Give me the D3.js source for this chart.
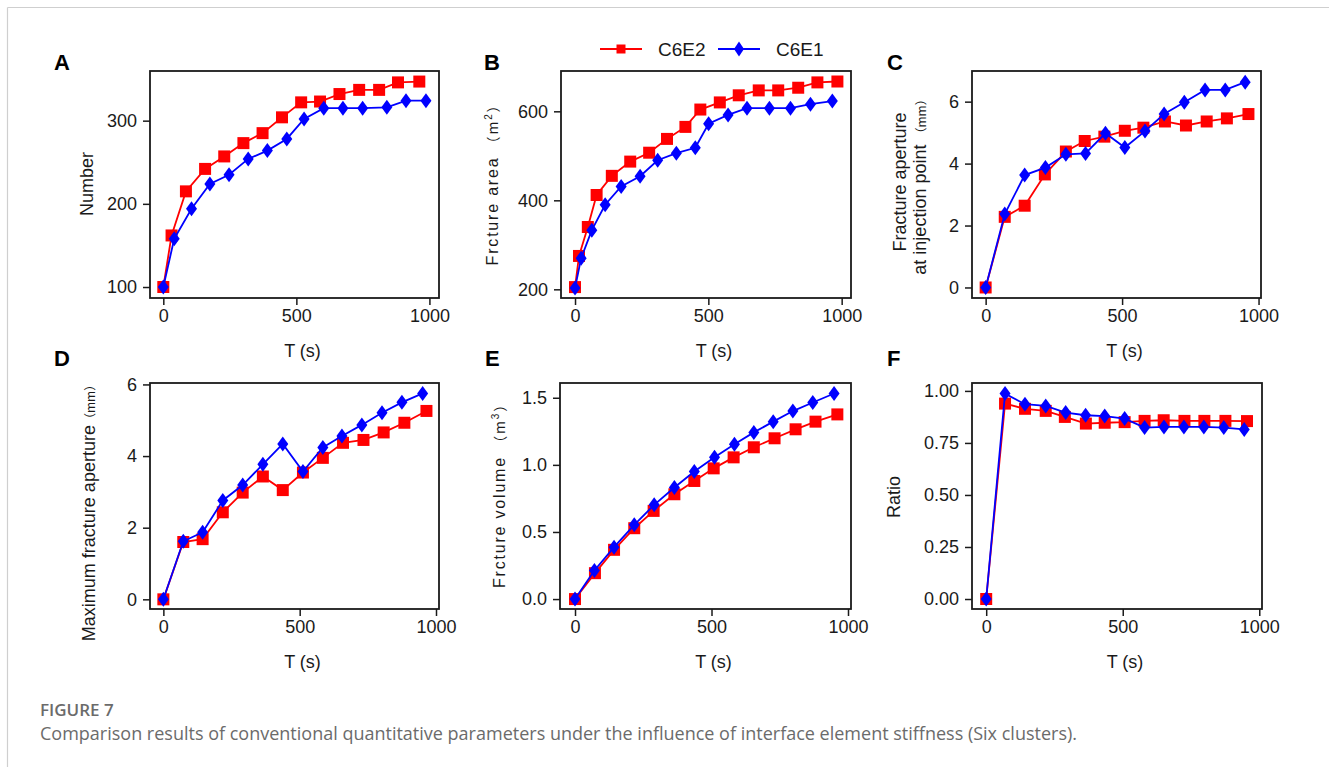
<!DOCTYPE html>
<html>
<head>
<meta charset="utf-8">
<script src="https://cdn.jsdelivr.net/npm/d3@7"></script>
<style>
    body { margin: 0; background: #fff; }
    svg { font-family: "Liberation Sans", Arial, sans-serif; }
    .caption { font-family: "Open Sans", "Noto Sans", sans-serif; fill: #6b6b6b; }
</style>
</head>
<body>
<svg id="fig" width="1329" height="767"></svg>
<script>
// ---- data (C6E2 = red squares, C6E1 = blue diamonds) ----
const seriesNames = ["C6E2", "C6E1"];

// A - Number
const timeA_E2 = [0, 31, 85, 157, 229, 301, 373, 446, 518, 589, 662, 736, 811, 882, 962];
const numberE2 = [100, 162, 215, 242, 257, 273, 285, 304, 322, 323, 332, 337, 337, 346, 347];
const timeA_E1 = [0, 41, 106, 175, 247, 319, 391, 464, 529, 603, 675, 749, 840, 912, 987];
const numberE1 = [100, 158, 194, 224, 235, 254, 264, 278, 302, 315, 315, 315, 316, 324, 324];

// B - Fracture area
const timeB_E2 = [0, 15, 48, 81, 138, 207, 278, 345, 414, 470, 543, 614, 689, 762, 837, 909, 984];
const areaE2 = [205, 275, 340, 412, 455, 487, 507, 538, 565, 604, 620, 636, 647, 647, 653, 665, 667];
const timeB_E1 = [0, 23, 63, 113, 173, 244, 310, 380, 451, 501, 574, 645, 729, 808, 883, 965];
const areaE1 = [203, 270, 333, 390, 431, 454, 490, 506, 518, 572, 592, 607, 607, 607, 616, 623];

// C - Fracture aperture at injection point
const timeC_E2 = [0, 70, 143, 217, 294, 363, 435, 510, 578, 657, 734, 810, 884, 963];
const injApertureE2 = [0, 2.28, 2.64, 3.65, 4.39, 4.73, 4.87, 5.06, 5.16, 5.36, 5.23, 5.36, 5.46, 5.60];
const timeC_E1 = [0, 70, 143, 219, 294, 366, 439, 510, 584, 654, 728, 804, 878, 951];
const injApertureE1 = [0, 2.37, 3.63, 3.87, 4.30, 4.33, 4.98, 4.52, 5.05, 5.60, 5.98, 6.38, 6.38, 6.63];

// D - Maximum fracture aperture
const timeD_E2 = [0, 73, 144, 218, 291, 365, 438, 512, 585, 659, 734, 808, 884, 965];
const maxApertureE2 = [0, 1.60, 1.68, 2.43, 2.98, 3.43, 3.05, 3.54, 3.95, 4.37, 4.45, 4.66, 4.93, 5.26];
const timeD_E1 = [0, 73, 144, 218, 291, 365, 438, 512, 585, 655, 728, 802, 875, 951];
const maxApertureE1 = [0, 1.62, 1.87, 2.76, 3.19, 3.77, 4.34, 3.57, 4.24, 4.56, 4.87, 5.21, 5.50, 5.75];

// E - Fracture volume
const timeE_E2 = [0, 73, 143, 217, 288, 364, 437, 508, 581, 655, 731, 808, 881, 961];
const volumeE2 = [0, 0.193, 0.367, 0.528, 0.657, 0.781, 0.880, 0.974, 1.056, 1.131, 1.198, 1.265, 1.322, 1.376];
const timeE_E1 = [0, 71, 143, 217, 290, 364, 437, 511, 584, 655, 726, 798, 871, 949];
const volumeE1 = [0, 0.213, 0.387, 0.553, 0.702, 0.831, 0.950, 1.056, 1.153, 1.242, 1.322, 1.401, 1.465, 1.532];

// F - Ratio
const timeF_E2 = [0, 69, 142, 218, 288, 365, 434, 507, 580, 650, 726, 799, 876, 955];
const ratioE2 = [0, 0.939, 0.914, 0.904, 0.875, 0.843, 0.847, 0.850, 0.856, 0.859, 0.856, 0.856, 0.856, 0.855];
const timeF_E1 = [0, 69, 142, 218, 291, 364, 434, 507, 580, 651, 724, 797, 870, 945];
const ratioE1 = [0, 0.987, 0.936, 0.928, 0.896, 0.883, 0.879, 0.867, 0.824, 0.827, 0.827, 0.827, 0.824, 0.815];

const xTicks = [0, 500, 1000];
const yTicksA = [100, 200, 300];
const yTicksB = [200, 400, 600];
const yTicksC = [0, 2, 4, 6];
const yTicksD = [0, 2, 4, 6];
const yTicksE = [0, 0.5, 1.0, 1.5];
const yTicksF = [0, 0.25, 0.5, 0.75, 1.0];

const zip = (xs, ys) => xs.map((x, i) => ({x: x, y: ys[i]}));

const panels = [
    {tag: "A", box: [150, 71, 439, 298], xDom: [-50, 1036], yDom: [86.8, 359.7], yTicks: yTicksA, fmt: d3.format("d"),
        red: zip(timeA_E2, numberE2), blue: zip(timeA_E1, numberE1), tagPos: [54, 70]},
    {tag: "B", box: [561, 71, 851, 298], xDom: [-52.6, 1035], yDom: [180.5, 690.6], yTicks: yTicksB, fmt: d3.format("d"),
        red: zip(timeB_E2, areaE2), blue: zip(timeB_E1, areaE1), tagPos: [484, 70]},
    {tag: "C", box: [972, 71, 1261, 298], xDom: [-50, 1009], yDom: [-0.34, 6.99], yTicks: yTicksC, fmt: d3.format("d"),
        red: zip(timeC_E2, injApertureE2), blue: zip(timeC_E1, injApertureE1), tagPos: [887, 70]},
    {tag: "D", box: [150, 383, 439, 609], xDom: [-49, 1011], yDom: [-0.27, 6.04], yTicks: yTicksD, fmt: d3.format("d"),
        red: zip(timeD_E2, maxApertureE2), blue: zip(timeD_E1, maxApertureE1), tagPos: [54, 366]},
    {tag: "E", box: [560, 383, 851, 609], xDom: [-55, 1011], yDom: [-0.074, 1.61], yTicks: yTicksE, fmt: d3.format(".1f"),
        red: zip(timeE_E2, volumeE2), blue: zip(timeE_E1, volumeE1), tagPos: [485, 366]},
    {tag: "F", box: [972, 383, 1262, 609], xDom: [-52, 1010], yDom: [-0.048, 1.038], yTicks: yTicksF, fmt: d3.format(".2f"),
        red: zip(timeF_E2, ratioE2), blue: zip(timeF_E1, ratioE1), tagPos: [887, 366]}
];

const RED = "#ff0000", BLUE = "#0000ff";
const INK = "#1a1a1a";
const svg = d3.select("#fig");

// light frame of the figure page
svg.append("line").attr("x1", 7.5).attr("x2", 1329).attr("y1", 7.5).attr("y2", 7.5)
    .attr("stroke", "#cfcfcf").attr("stroke-width", 1.2);
svg.append("line").attr("x1", 7.5).attr("x2", 7.5).attr("y1", 7.5).attr("y2", 767)
    .attr("stroke", "#cfcfcf").attr("stroke-width", 1.2);

const square = d3.symbol().type(d3.symbolSquare).size(144);
const diamond = (w, h) => `M0,${-h / 2}L${w / 2},0L0,${h / 2}L${-w / 2},0Z`;

function drawPanel(p) {
    let [x0, y0, x1, y1] = p.box;
    let x = d3.scaleLinear().domain(p.xDom).range([x0, x1]);
    let y = d3.scaleLinear().domain(p.yDom).range([y1, y0]);
    let g = svg.append("g").attr("class", "panel panel" + p.tag);

    let xAxis = g.append("g")
        .attr("transform", "translate(0," + y1 + ")")
        .call(d3.axisBottom(x).tickValues(xTicks).tickFormat(d3.format("d"))
            .tickSize(7).tickPadding(4).tickSizeOuter(0));
    let yAxis = g.append("g")
        .attr("transform", "translate(" + x0 + ",0)")
        .call(d3.axisLeft(y).tickValues(p.yTicks).tickFormat(p.fmt)
            .tickSize(7).tickPadding(6).tickSizeOuter(0));
    [xAxis, yAxis].forEach(a => {
        a.select(".domain").remove();
        a.selectAll(".tick line").attr("stroke", INK).attr("stroke-width", 1.5);
        a.selectAll(".tick text").attr("fill", INK)
            .style("font-size", "18px").style("font-family", "'Liberation Sans', Arial, sans-serif");
    });

    g.append("rect")
        .attr("x", x0).attr("y", y0).attr("width", x1 - x0).attr("height", y1 - y0)
        .attr("fill", "none").attr("stroke", INK).attr("stroke-width", 1.8);

    let line = d3.line().x(d => x(d.x)).y(d => y(d.y));

    // red first, blue sits on top
    g.append("path").datum(p.red).attr("d", line)
        .attr("fill", "none").attr("stroke", RED).attr("stroke-width", 1.8);
    g.selectAll(".sq").data(p.red).enter().append("path")
        .attr("class", "sq")
        .attr("transform", d => "translate(" + x(d.x) + "," + y(d.y) + ")")
        .attr("d", square).attr("fill", RED);

    g.append("path").datum(p.blue).attr("d", line)
        .attr("fill", "none").attr("stroke", BLUE).attr("stroke-width", 1.8);
    g.selectAll(".dm").data(p.blue).enter().append("path")
        .attr("class", "dm")
        .attr("transform", d => "translate(" + x(d.x) + "," + y(d.y) + ")")
        .attr("d", diamond(11, 15)).attr("fill", BLUE);

    // x title
    g.append("text")
        .attr("x", (x0 + x1) / 2 + 8).attr("y", y1 + 59)
        .attr("text-anchor", "middle").style("font-size", "18px").attr("fill", INK)
        .text("T (s)");

    // panel letter
    svg.append("text")
        .attr("x", p.tagPos[0]).attr("y", p.tagPos[1])
        .style("font-size", "22px").style("font-weight", "bold").attr("fill", "#000")
        .text(p.tag);
}

panels.forEach(drawPanel);

// y axis titles, each one a little different in the original
function yTitle(cx, cy) {
    return svg.append("text")
        .attr("transform", "translate(" + cx + "," + cy + ") rotate(-90)")
        .attr("text-anchor", "middle").attr("fill", INK)
        .style("font-size", "18px");
}

yTitle(93, 184).text("Number");

let tb = yTitle(498, 181).style("font-size", "16px").style("letter-spacing", "1.8px");
tb.append("tspan").text("Frcture area ");
tb.append("tspan").style("font-family", "'Noto Sans CJK SC'").style("font-size", "14px").text("（m");
tb.append("tspan").attr("dy", -6).style("font-size", "10px").text("2");
tb.append("tspan").attr("dy", 6).style("font-family", "'Noto Sans CJK SC'").style("font-size", "14px").text("）");

yTitle(906, 182).text("Fracture aperture");
let tc2 = yTitle(926, 184);
tc2.append("tspan").text("at injection point ");
tc2.append("tspan").style("font-size", "12px").style("font-family", "'Noto Sans CJK SC'").text("（mm）");

let td = yTitle(95, 510);
td.append("tspan").text("Maximum fracture aperture");
td.append("tspan").style("font-size", "12px").style("font-family", "'Noto Sans CJK SC'").text("（mm）");

let te = yTitle(505, 492).style("font-size", "16px").style("letter-spacing", "1.8px");
te.append("tspan").text("Frcture volume ");
te.append("tspan").style("font-family", "'Noto Sans CJK SC'").style("font-size", "14px").text("（m");
te.append("tspan").attr("dy", -6).style("font-size", "10px").text("3");
te.append("tspan").attr("dy", 6).style("font-family", "'Noto Sans CJK SC'").style("font-size", "14px").text("）");

yTitle(900, 497).text("Ratio");

// legend
const legend = svg.append("g").attr("class", "legend").attr("transform", "translate(600,49)");
const legendItems = [
    {name: seriesNames[0], color: RED, x: 0, mark: d3.symbol().type(d3.symbolSquare).size(81)()},
    {name: seriesNames[1], color: BLUE, x: 118, mark: diamond(10, 15)}
];
legendItems.forEach(it => {
    let lg = legend.append("g").attr("transform", "translate(" + it.x + ",0)");
    lg.append("line").attr("x1", 0).attr("x2", 42).attr("stroke", it.color).attr("stroke-width", 1.8);
    lg.append("path").attr("transform", "translate(21,0)").attr("d", it.mark).attr("fill", it.color);
    lg.append("text").attr("x", 58).attr("y", 7).style("font-size", "19px").attr("fill", INK).text(it.name);
});

// caption
svg.append("text").attr("class", "caption")
    .attr("x", 40).attr("y", 716).style("font-size", "17px").style("font-weight", "600")
    .text("FIGURE 7");
svg.append("text").attr("class", "caption")
    .attr("x", 40).attr("y", 740).style("font-size", "18px")
    .text("Comparison results of conventional quantitative parameters under the influence of interface element stiffness (Six clusters).");
</script>
</body>
</html>
